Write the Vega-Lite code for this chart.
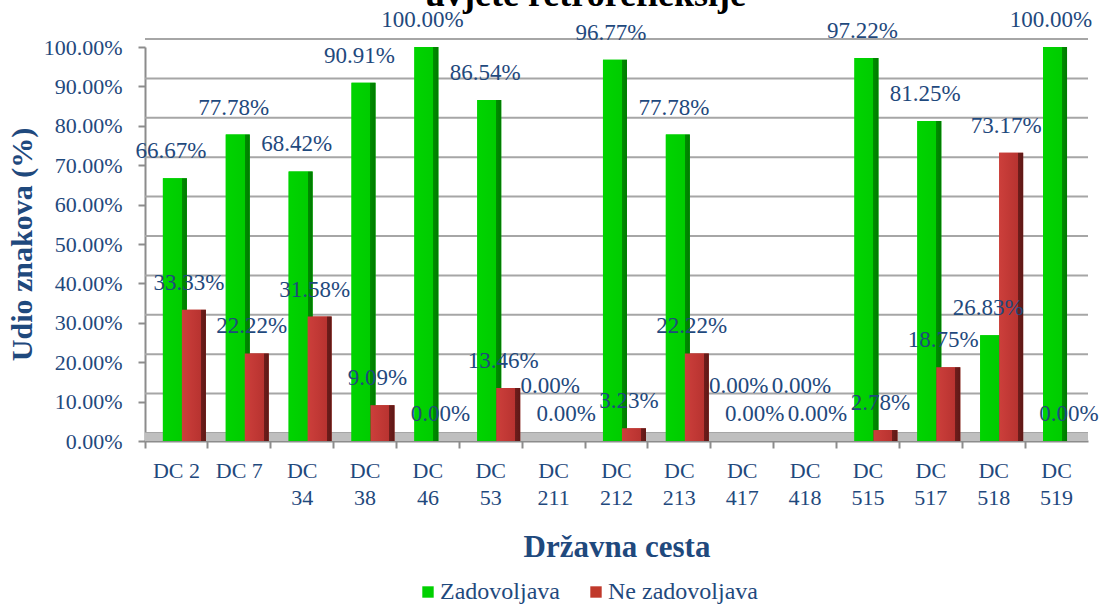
{
  "$schema": "https://vega.github.io/schema/vega-lite/v6.json",
  "width": 943,
  "height": 394,
  "autosize": {"type": "none"},
  "padding": {"left": 145, "top": 47, "right": 12, "bottom": 163},
  "background": "white",
  "title": {
    "text": "uvjete retrorefleksije",
    "font": "Liberation Serif, Times New Roman, serif",
    "fontSize": 36,
    "fontWeight": "bold",
    "color": "#000000",
    "frame": "group",
    "anchor": "middle",
    "baseline": "alphabetic",
    "offset": -33,
    "dx": -31
  },
  "datasets": {
    "main": [
      {"road": "DC 2", "series": "Zadovoljava", "value": 0.6667},
      {"road": "DC 2", "series": "Ne zadovoljava", "value": 0.3333},
      {"road": "DC 7", "series": "Zadovoljava", "value": 0.7778},
      {"road": "DC 7", "series": "Ne zadovoljava", "value": 0.2222},
      {"road": "DC 34", "series": "Zadovoljava", "value": 0.6842},
      {"road": "DC 34", "series": "Ne zadovoljava", "value": 0.3158},
      {"road": "DC 38", "series": "Zadovoljava", "value": 0.9091},
      {"road": "DC 38", "series": "Ne zadovoljava", "value": 0.0909},
      {"road": "DC 46", "series": "Zadovoljava", "value": 1.0},
      {"road": "DC 46", "series": "Ne zadovoljava", "value": 0.0},
      {"road": "DC 53", "series": "Zadovoljava", "value": 0.8654},
      {"road": "DC 53", "series": "Ne zadovoljava", "value": 0.1346},
      {"road": "DC 211", "series": "Zadovoljava", "value": 0.0},
      {"road": "DC 211", "series": "Ne zadovoljava", "value": 0.0},
      {"road": "DC 212", "series": "Zadovoljava", "value": 0.9677},
      {"road": "DC 212", "series": "Ne zadovoljava", "value": 0.0323},
      {"road": "DC 213", "series": "Zadovoljava", "value": 0.7778},
      {"road": "DC 213", "series": "Ne zadovoljava", "value": 0.2222},
      {"road": "DC 417", "series": "Zadovoljava", "value": 0.0},
      {"road": "DC 417", "series": "Ne zadovoljava", "value": 0.0},
      {"road": "DC 418", "series": "Zadovoljava", "value": 0.0},
      {"road": "DC 418", "series": "Ne zadovoljava", "value": 0.0},
      {"road": "DC 515", "series": "Zadovoljava", "value": 0.9722},
      {"road": "DC 515", "series": "Ne zadovoljava", "value": 0.0278},
      {"road": "DC 517", "series": "Zadovoljava", "value": 0.8125},
      {"road": "DC 517", "series": "Ne zadovoljava", "value": 0.1875},
      {"road": "DC 518", "series": "Zadovoljava", "value": 0.2683},
      {"road": "DC 518", "series": "Ne zadovoljava", "value": 0.7317},
      {"road": "DC 519", "series": "Zadovoljava", "value": 1.0},
      {"road": "DC 519", "series": "Ne zadovoljava", "value": 0.0}
    ],
    "grid": [
      {"value": 0}, {"value": 0.1}, {"value": 0.2}, {"value": 0.3}, {"value": 0.4}, {"value": 0.5},
      {"value": 0.6}, {"value": 0.7}, {"value": 0.8}, {"value": 0.9}, {"value": 1.0}
    ]
  },
  "data": {"name": "main"},
  "layer": [
    {
      "data": {"name": "grid"},
      "mark": {"type": "rule", "color": "#A6A6A6", "strokeWidth": 2, "yOffset": -8},
      "encoding": {
        "y": {
          "field": "value", "type": "quantitative",
          "scale": {"domain": [0, 1], "nice": false},
          "axis": {
            "title": "Udio znakova (%)",
            "titleFontSize": 30,
            "titlePadding": 6,
            "values": [0, 0.1, 0.2, 0.3, 0.4, 0.5, 0.6, 0.7, 0.8, 0.9, 1.0],
            "tickCount": 11,
            "format": ".2%",
            "labelPadding": 16,
            "labelOverlap": false,
            "labelBound": false,
            "labelFlush": false
          }
        }
      }
    },
    {
      "data": {"name": "grid"},
      "mark": {"type": "rule", "color": "#BFBFBF", "strokeWidth": 8, "yOffset": -4},
      "encoding": {
        "y": {"datum": 0, "type": "quantitative"}
      }
    },
    {
      "mark": {"type": "bar", "width": 24},
      "encoding": {
        "x": {
          "field": "road", "type": "nominal", "sort": null,
          "scale": {"paddingInner": 0, "paddingOuter": 0},
          "axis": {
            "title": "Državna cesta",
            "titleFontSize": 31,
            "titlePadding": 24,
            "bandPosition": 0,
            "labelAngle": 0,
            "labelAlign": "center",
            "labelBaseline": "top",
            "labelPadding": 12,
            "labelLineHeight": 27,
            "labelOverlap": false,
            "labelFlush": false,
            "labelBound": false,
            "labelExpr": "length(datum.label) > 4 ? split(datum.label, ' ') : datum.label"
          }
        },
        "xOffset": {
          "field": "series", "type": "nominal", "sort": ["Zadovoljava", "Ne zadovoljava"],
          "scale": {"domain": ["Zadovoljava", "Ne zadovoljava"], "paddingInner": 0, "paddingOuter": 0.655, "align": 0.82}
        },
        "y": {
          "field": "value", "type": "quantitative",
          "axis": {
            "title": "Udio znakova (%)",
            "titleFontSize": 30,
            "titlePadding": 6,
            "values": [0, 0.1, 0.2, 0.3, 0.4, 0.5, 0.6, 0.7, 0.8, 0.9, 1.0],
            "tickCount": 11,
            "format": ".2%",
            "labelPadding": 16,
            "labelOverlap": false,
            "labelBound": false,
            "labelFlush": false
          }
        },
        "color": {
          "field": "series", "type": "nominal",
          "scale": {"domain": ["Zadovoljava", "Ne zadovoljava"], "range": ["#00D000", "#C0392B"]},
          "legend": {
            "title": null,
            "orient": "none",
            "legendX": 271,
            "legendY": 533,
            "padding": 0,
            "direction": "horizontal",
            "symbolType": "square",
            "symbolSize": 130,
            "symbolStrokeWidth": 0,
            "labelFont": "Liberation Serif, Times New Roman, serif",
            "labelFontSize": 24,
            "labelColor": "#1F497D",
            "labelOffset": 0,
            "columnPadding": 24
          }
        }
      }
    },
    {
      "transform": [{"filter": "datum.series === 'Zadovoljava'"}],
      "mark": {
        "type": "bar", "width": 24,
        "color": {
          "gradient": "linear", "x1": 0, "x2": 1, "y1": 0, "y2": 0,
          "stops": [
            {"offset": 0, "color": "#00D400"},
            {"offset": 0.79, "color": "#00CC00"},
            {"offset": 0.79, "color": "#008C00"},
            {"offset": 1, "color": "#007A00"}
          ]
        }
      },
      "encoding": {
        "x": {"field": "road", "type": "nominal", "sort": null},
        "xOffset": {"field": "series", "type": "nominal", "sort": ["Zadovoljava", "Ne zadovoljava"]},
        "y": {"field": "value", "type": "quantitative"}
      }
    },
    {
      "transform": [{"filter": "datum.series === 'Ne zadovoljava'"}],
      "mark": {
        "type": "bar", "width": 24,
        "color": {
          "gradient": "linear", "x1": 0, "x2": 1, "y1": 0, "y2": 0,
          "stops": [
            {"offset": 0, "color": "#CC3F3B"},
            {"offset": 0.79, "color": "#B83330"},
            {"offset": 0.79, "color": "#6E1D1B"},
            {"offset": 1, "color": "#5E1816"}
          ]
        }
      },
      "encoding": {
        "x": {"field": "road", "type": "nominal", "sort": null},
        "xOffset": {"field": "series", "type": "nominal", "sort": ["Zadovoljava", "Ne zadovoljava"]},
        "y": {"field": "value", "type": "quantitative"}
      }
    },
    {
      "transform": [{"filter": "datum.series === 'Zadovoljava' && datum.value > 0"}],
      "mark": {"type": "text", "font": "Liberation Serif, Times New Roman, serif", "fontSize": 23, "color": "#1F497D", "baseline": "middle", "dy": -27, "dx": -4},
      "encoding": {
        "x": {"field": "road", "type": "nominal", "sort": null},
        "xOffset": {"field": "series", "type": "nominal", "sort": ["Zadovoljava", "Ne zadovoljava"]},
        "y": {"field": "value", "type": "quantitative"},
        "text": {"field": "value", "type": "quantitative", "format": ".2%"}
      }
    },
    {
      "transform": [{"filter": "datum.series === 'Zadovoljava' && datum.value == 0"}],
      "mark": {"type": "text", "font": "Liberation Serif, Times New Roman, serif", "fontSize": 23, "color": "#1F497D", "baseline": "middle", "dy": -55, "dx": -2},
      "encoding": {
        "x": {"field": "road", "type": "nominal", "sort": null},
        "xOffset": {"field": "series", "type": "nominal", "sort": ["Zadovoljava", "Ne zadovoljava"]},
        "y": {"field": "value", "type": "quantitative"},
        "text": {"field": "value", "type": "quantitative", "format": ".2%"}
      }
    },
    {
      "transform": [{"filter": "datum.series === 'Ne zadovoljava'"}],
      "mark": {"type": "text", "font": "Liberation Serif, Times New Roman, serif", "fontSize": 23, "color": "#1F497D", "baseline": "middle", "dy": -27, "dx": -5},
      "encoding": {
        "x": {"field": "road", "type": "nominal", "sort": null},
        "xOffset": {"field": "series", "type": "nominal", "sort": ["Zadovoljava", "Ne zadovoljava"]},
        "y": {"field": "value", "type": "quantitative"},
        "text": {"field": "value", "type": "quantitative", "format": ".2%"}
      }
    }
  ],
  "config": {
    "view": {"stroke": null},
    "font": "Liberation Serif, Times New Roman, serif",
    "axis": {
      "labelFont": "Liberation Serif, Times New Roman, serif",
      "labelFontSize": 22,
      "labelColor": "#1F497D",
      "titleFont": "Liberation Serif, Times New Roman, serif",
      "titleFontWeight": "bold",
      "titleColor": "#1F497D",
      "domainColor": "#8C8C8C",
      "domainWidth": 2,
      "tickColor": "#8C8C8C",
      "tickWidth": 2,
      "tickSize": 7,
      "grid": false
    }
  }
}
